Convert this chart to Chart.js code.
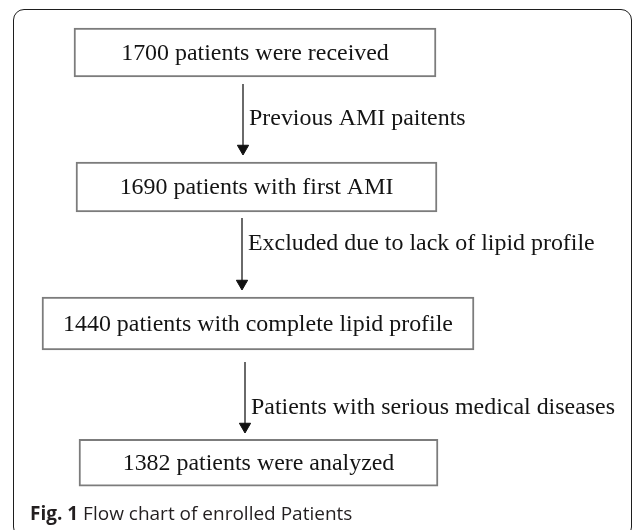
<!DOCTYPE html>
<html>
<head>
<meta charset="utf-8">
<script src="https://cdn.jsdelivr.net/npm/chart.js@4.4.1/dist/chart.umd.min.js"></script>
<style>
    body { margin: 0; background: #fff; }
    #wrap { position: relative; width: 633px; height: 530px; overflow: hidden; }
    #frame { position: absolute; left: 13px; top: 9px; width: 617px; height: 527px; border: 1.5px solid #1e1e1e; border-radius: 11px; }
    #flow { position: absolute; left: 0; top: 0; }
</style>
</head>
<body>
<div id="wrap">
    <div id="frame"></div>
    <canvas id="flow" width="633" height="530"></canvas>
</div>
<script>
// Flow stages and exclusion reasons
const stages = [
    '1700 patients were received',
    '1690 patients with first AMI',
    '1440 patients with complete lipid profile',
    '1382 patients were analyzed'
];
const exclusions = [
    'Previous AMI paitents',
    'Excluded due to lack of lipid profile',
    'Patients with serious medical diseases'
];
const captionBold = 'Fig. 1';
const captionText = 'Flow chart of enrolled Patients';

// Layout, in page units (x 0-633, y 0-530 from the top)
const boxX = [[74, 436], [76, 437], [42, 474], [79, 438]];
const boxY = [52.5, 187, 323.5, 462.75];
const boxH = [49, 50, 53, 47];
const arrowX = [243, 242, 245];
const arrowY = [[84, 148.5], [218, 283.5], [362, 426.5]];
const labelY = [119, 244, 408];
const captionPos = [30, 515];

const boxSets = stages.map((s, i) => ({
    type: 'bar',
    label: s,
    indexAxis: 'y',
    stack: 'flow',
    data: [{ x: boxX[i], y: boxY[i] }],
    barThickness: boxH[i],
    backgroundColor: '#ffffff',
    borderColor: '#7c7c7c',
    borderWidth: 2,
    borderSkipped: false
}));

const arrowSets = exclusions.map((s, i) => ({
    type: 'line',
    label: s,
    data: [{ x: arrowX[i], y: arrowY[i][0] }, { x: arrowX[i], y: arrowY[i][1] }],
    borderColor: '#3a3a3a',
    borderWidth: 1.5,
    pointRadius: [0, 6.5],
    pointStyle: 'triangle',
    pointRotation: 180,
    pointBackgroundColor: '#111',
    pointBorderColor: '#111',
    pointBorderWidth: 1
}));

// slightly wide serif, like the scanned figure
function wideText(ctx, s, px, py) {
    ctx.save();
    ctx.translate(px, py);
    ctx.scale(1.04, 1);
    ctx.fillText(s, 0, 0);
    ctx.restore();
}

const flowText = {
    id: 'flowText',
    afterDatasetsDraw(chart) {
        const { ctx, scales: { x, y } } = chart;
        ctx.save();
        ctx.fillStyle = '#141414';
        ctx.font = '23px "Liberation Serif"';
        ctx.textBaseline = 'middle';
        ctx.textAlign = 'center';
        stages.forEach((s, i) => {
            const bar = chart.getDatasetMeta(i).data[0];
            wideText(ctx, s, (bar.x + bar.base) / 2, bar.y + 1);
        });
        ctx.textAlign = 'left';
        exclusions.forEach((s, i) => {
            wideText(ctx, s, x.getPixelForValue(arrowX[i] + 6), y.getPixelForValue(labelY[i]));
        });

        // caption
        let cx = x.getPixelForValue(captionPos[0]);
        const cy = y.getPixelForValue(captionPos[1]);
        ctx.fillStyle = '#231f20';
        ctx.font = 'bold 19px "Open Sans"';
        ctx.fillText(captionBold, cx, cy);
        cx += ctx.measureText(captionBold + ' ').width;
        ctx.font = '19px "Open Sans"';
        ctx.fillText(captionText, cx, cy);
        ctx.restore();
    }
};

new Chart(document.getElementById('flow'), {
    type: 'scatter',
    data: { datasets: [...boxSets, ...arrowSets] },
    options: {
        responsive: false,
        animation: false,
        events: [],
        layout: { padding: 0, autoPadding: false },
        plugins: { legend: { display: false }, tooltip: { enabled: false } },
        scales: {
            x: { type: 'linear', min: 0, max: 633, display: false, stacked: false, offset: false },
            y: { type: 'linear', min: 0, max: 530, reverse: true, display: false, offset: false }
        }
    },
    plugins: [flowText]
});
</script>
</body>
</html>
